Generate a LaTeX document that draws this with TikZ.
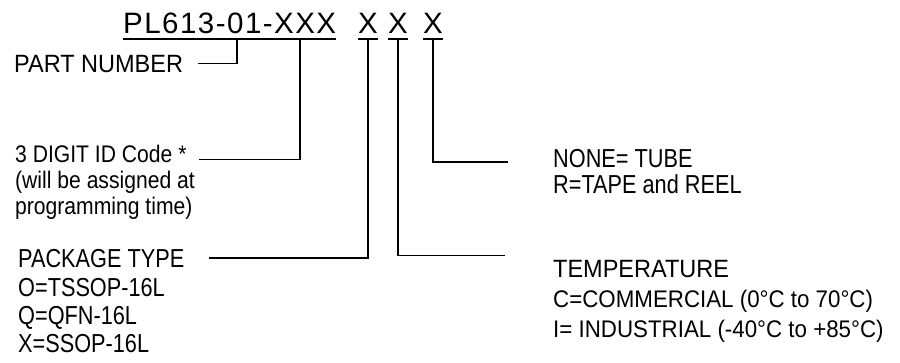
\documentclass[tikz,border=0pt]{standalone}
\usepackage{fontspec}
\setmainfont{Liberation Sans}
\newfontfamily\titlefont[LetterSpace=5]{Liberation Sans}
\newfontfamily\widefont[FakeStretch=0.94]{Liberation Sans}
\newfontfamily\narrowfont[FakeStretch=0.835]{Liberation Sans}
\newfontfamily\idfont[FakeStretch=0.88]{Liberation Sans}
\newfontfamily\tempfont[FakeStretch=0.93]{Liberation Sans}

\begin{document}
\begin{tikzpicture}
[
	x=1pt,y=-1pt,
	lbl/.style={anchor=base west,inner sep=0pt},
	titletxt/.style={lbl,font=\titlefont\fontsize{29.5}{32}\selectfont},
	widetxt/.style={lbl,font=\widefont\fontsize{25}{28}\selectfont},
	idtxt/.style={lbl,font=\idfont\fontsize{24}{26}\selectfont},
	narrowtxt/.style={lbl,font=\narrowfont\fontsize{26}{28}\selectfont},
	temptxt/.style={lbl,font=\tempfont\fontsize{24}{26}\selectfont},
	uline/.style={line width=2.2pt},
	conn/.style={line width=1.4pt}
]
	\useasboundingbox (0,0) rectangle (900,362);

	% part number and suffix letters
	\node[titletxt] (pn) at (123,33) {PL613-01-XXX};
	\node[titletxt] (xpkg) at (358,33) {X};
	\node[titletxt] (xtemp) at (388,33) {X};
	\node[titletxt] (xpack) at (423,33) {X};

	\foreach \n in {pn,xpkg,xtemp,xpack}
		\draw[uline] ([yshift=-6pt]\n.base west) -- ([yshift=-6pt]\n.base east);

	% taps under the underlines
	\coordinate (tpart) at (237,39);
	\coordinate (tid) at (300,39);
	\coordinate (tpkg) at ([yshift=-6pt]xpkg.base);
	\coordinate (ttemp) at ([yshift=-6pt]xtemp.base);
	\coordinate (tpack) at ([yshift=-6pt]xpack.base);

	% left labels
	\node[widetxt] (part) at (14,72) {PART NUMBER};

	\node[idtxt] (id1) at (15,162) {3 DIGIT ID Code *};
	\node[idtxt] (id2) at (15,188) {(will be assigned at};
	\node[idtxt] (id3) at (15,214) {programming time)};

	\node[narrowtxt] (pk1) at (18,267) {PACKAGE TYPE};
	\node[narrowtxt] (pk2) at (18,296) {O=TSSOP-16L};
	\node[narrowtxt] (pk3) at (18,324) {Q=QFN-16L};
	\node[narrowtxt] (pk4) at (18,352) {X=SSOP-16L};

	% right labels
	\node[narrowtxt] (nn1) at (553,167) {NONE= TUBE};
	\node[narrowtxt] (nn2) at (553,193) {R=TAPE and REEL};

	\node[widetxt] (tp1) at (553,277) {TEMPERATURE};
	\node[temptxt] (tp2) at (553,307) {C=COMMERCIAL (0°C to 70°C)};
	\node[temptxt] (tp3) at (553,337) {I= INDUSTRIAL (-40°C to +85°C)};

	% connectors
	\draw[conn] (tpart) |- ([xshift=15pt]part.east);
	\draw[conn] (tid) |- ([xshift=12pt,yshift=-6pt]id1.east);
	\draw[conn] (tpkg) |- ([xshift=25pt]pk1.east);
	\draw[conn] (ttemp) |- ([xshift=-48pt,yshift=13pt]tp1.west);
	\draw[conn] (tpack) |- ([xshift=-45pt,yshift=-4pt]nn1.west);

\end{tikzpicture}
\end{document}
